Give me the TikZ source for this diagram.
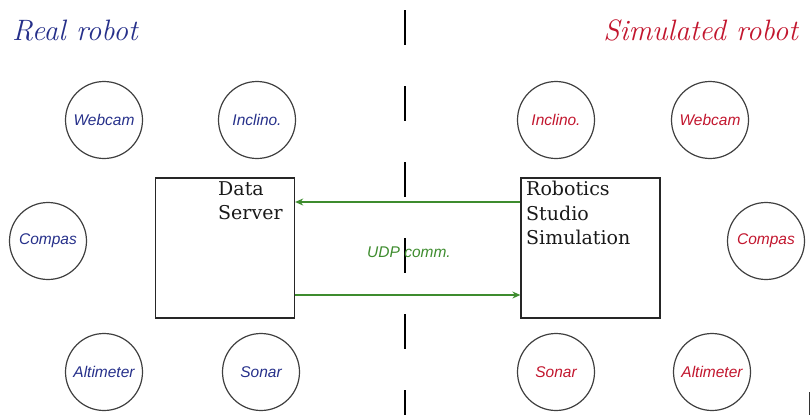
\documentclass[tikz,border=0pt]{standalone}
\usepackage{fontspec}
\setsansfont{Liberation Sans}
\newfontfamily\slabfont{DejaVu Serif}
\usetikzlibrary{arrows.meta}
\definecolor{realblue}{HTML}{26308A}
\definecolor{simred}{HTML}{C2162E}
\definecolor{udpgreen}{HTML}{3E8C2E}
\tikzset{
  sensor/.style={circle, draw=black!75, line width=1.2pt, minimum size=77pt, inner sep=0pt,
    font=\fontsize{15.5}{15.5}\selectfont\sffamily\itshape},
  realsensor/.style={sensor, text=realblue},
  simsensor/.style={sensor, text=simred},
  unitbox/.style={draw=black!85, line width=1.3pt, minimum width=139pt, minimum height=140pt, inner sep=0pt},
  boxlabel/.style={align=left, anchor=north west, inner sep=0pt,
    font=\fontsize{19}{24.5}\selectfont\slabfont, text=black!90},
  title/.style={anchor=base west, inner sep=0pt, font=\fontsize{29.5}{29.5}\selectfont\itshape},
  link/.style={draw=udpgreen, line width=1.2pt, -{Stealth[length=8pt,width=7pt]}}
}
\begin{document}
\begin{tikzpicture}[x=1pt,y=-1pt]
  \useasboundingbox (0,0) rectangle (810,415);

  % titles of the two halves
  \node[title, text=realblue] (realtitle) at (12,40) {Real robot};
  \node[title, text=simred, anchor=base east] (simtitle) at (798,40) {Simulated robot};

  % dashed divider
  \coordinate (divtop) at (405,10);
  \coordinate (divbot) at (405,415);
  \draw[line width=2.6pt, dash pattern=on 35pt off 41pt] (divtop) -- (divbot);

  % sensors of the real robot
  \node[realsensor] (rwebcam) at (104,120) {Webcam};
  \node[realsensor] (rinclino) at (257,120) {Inclino.};
  \node[realsensor] (rcompas) at (48,241) {Compas};
  \node[realsensor] (raltim) at (104,372) {Altimeter};
  \node[realsensor] (rsonar) at (261,372) {Sonar};

  % sensors of the simulated robot
  \node[simsensor] (sinclino) at (556,120) {Inclino.};
  \node[simsensor] (swebcam) at (710,120) {Webcam};
  \node[simsensor] (scompas) at (766,241) {Compas};
  \node[simsensor] (ssonar) at (556,372) {Sonar};
  \node[simsensor] (saltim) at (712,372) {Altimeter};

  % the two processing units
  \node[unitbox] (server) at (225,248) {};
  \node[boxlabel] (serverlbl) at (218,181) {Data\\Server};
  \node[unitbox] (sim) at (590.5,248) {};
  \node[boxlabel] (simlbl) at (526,181) {Robotics\\Studio\\Simulation};

  % UDP link between them
  \draw[link] ([yshift=46pt]sim.west) -- ([yshift=46pt]server.east);
  \draw[link] ([yshift=-47pt]server.east) -- ([yshift=-47pt]sim.west);
  \node[font=\fontsize{15.5}{15.5}\selectfont\sffamily\itshape, text=udpgreen] (udp) at (409,252) {UDP comm.};

  % edge mark at the lower right
  \coordinate (marktop) at (809,392);
  \coordinate (markbot) at (809,415);
  \draw[black!80, line width=1pt] (marktop) -- (markbot);
\end{tikzpicture}
\end{document}
